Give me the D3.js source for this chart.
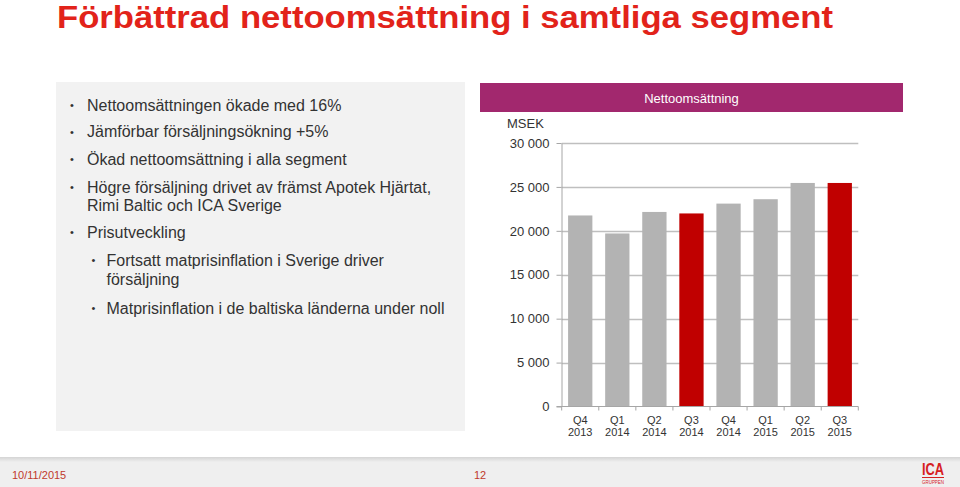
<!DOCTYPE html>
<html>
<head>
<meta charset="utf-8">
<script src="https://cdn.jsdelivr.net/npm/d3@7"></script>
<style>
  html, body { margin: 0; padding: 0; background: #fff; }
  svg { display: block; font-family: Arial, "Liberation Sans", sans-serif; }
</style>
</head>
<body>
<svg id="chart" width="960" height="487"></svg>
<script>
// ---- Data ----
const quarters = ["Q4", "Q1", "Q2", "Q3", "Q4", "Q1", "Q2", "Q3"];
const years = ["2013", "2014", "2014", "2014", "2014", "2015", "2015", "2015"];
const netSales = [21750, 19700, 22150, 21980, 23100, 23600, 25450, 25450];
const highlight = [false, false, false, true, false, false, false, true];
const yTicks = [0, 5000, 10000, 15000, 20000, 25000, 30000];
const yTickLabels = ["0", "5 000", "10 000", "15 000", "20 000", "25 000", "30 000"];
const titleText = "Förbättrad nettoomsättning i samtliga segment";
const chartHeader = "Nettoomsättning";
const unitLabel = "MSEK";
const bullets = [
  { level: 0, lines: ["Nettoomsättningen ökade med 16%"] },
  { level: 0, lines: ["Jämförbar försäljningsökning +5%"] },
  { level: 0, lines: ["Ökad nettoomsättning i alla segment"] },
  { level: 0, lines: ["Högre försäljning drivet av främst Apotek Hjärtat,", "Rimi Baltic och ICA Sverige"] },
  { level: 0, lines: ["Prisutveckling"] },
  { level: 1, lines: ["Fortsatt matprisinflation i Sverige driver", "försäljning"] },
  { level: 1, lines: ["Matprisinflation i de baltiska länderna under noll"] }
];
const footerDate = "10/11/2015";
const pageNumber = "12";

// ---- Drawing ----
const svg = d3.select("#chart");
const defs = svg.append("defs");
const grad = defs.append("linearGradient").attr("id", "shadow")
  .attr("x1", 0).attr("y1", 0).attr("x2", 0).attr("y2", 1);
grad.append("stop").attr("offset", "0%").attr("stop-color", "#d4d4d4");
grad.append("stop").attr("offset", "100%").attr("stop-color", "#efefef");

// Title
svg.append("text")
  .attr("x", 57).attr("y", 28.2)
  .attr("font-size", 31).attr("font-weight", "bold")
  .attr("fill", "#e2231a")
  .attr("textLength", 776).attr("lengthAdjust", "spacingAndGlyphs")
  .text(titleText);

// Left panel
svg.append("rect").attr("x", 56).attr("y", 82).attr("width", 409).attr("height", 349)
  .attr("fill", "#f2f2f2");

const lineYs = [105, 131.7, 159, 187.3, 205.7, 232.3, 260, 279, 308.3];
let li = 0;
bullets.forEach(b => {
  const bx = b.level === 0 ? 72 : 93.5;
  const tx = b.level === 0 ? 87 : 106.5;
  svg.append("text").attr("x", bx).attr("y", lineYs[li] + 4)
    .attr("text-anchor", "middle").attr("font-size", 11).attr("fill", "#333")
    .text("•");
  b.lines.forEach(l => {
    svg.append("text").attr("x", tx).attr("y", lineYs[li] + 5.6)
      .attr("font-size", 16).attr("fill", "#333").text(l);
    li++;
  });
});

// Chart header
svg.append("rect").attr("x", 480).attr("y", 83).attr("width", 423).attr("height", 29)
  .attr("fill", "#a2286e");
svg.append("text").attr("x", 691.5).attr("y", 102.5).attr("text-anchor", "middle")
  .attr("font-size", 13).attr("fill", "#fff").text(chartHeader);

svg.append("text").attr("x", 507).attr("y", 128).attr("font-size", 13)
  .attr("fill", "#333").text(unitLabel);

// Scales
const x = d3.scaleBand().domain(d3.range(netSales.length))
  .range([561.7, 858.3]).paddingInner(0.345).paddingOuter(0.1725);
const y = d3.scaleLinear().domain([0, 30000]).range([406.5, 143]);

// Gridlines
svg.append("g").selectAll("line").data(yTicks.filter(d => d > 0)).join("line")
  .attr("x1", 561.7).attr("x2", 858.3)
  .attr("y1", d => Math.round(y(d)) + 0.5).attr("y2", d => Math.round(y(d)) + 0.5)
  .attr("stroke", "#bfbfbf").attr("stroke-width", 1.3);

// Bars
svg.append("g").selectAll("rect").data(netSales).join("rect")
  .attr("x", (d, i) => x(i)).attr("width", x.bandwidth())
  .attr("y", d => y(d)).attr("height", d => y(0) - y(d))
  .attr("fill", (d, i) => highlight[i] ? "#c00000" : "#b3b3b3");

// Y axis
const yAxis = d3.axisLeft(y).tickValues(yTicks)
  .tickFormat((d, i) => yTickLabels[i]).tickSize(5).tickSizeOuter(0).tickPadding(7);
const gy = svg.append("g").attr("transform", "translate(561.5,0)").call(yAxis);
gy.selectAll("path,line").attr("stroke", "#a6a6a6");
gy.selectAll("text").attr("font-size", 13).attr("fill", "#333")
  .attr("font-family", "Arial, 'Liberation Sans', sans-serif");

// X axis
const gx = svg.append("g").attr("transform", `translate(0,${y(0)})`);
gx.append("line").attr("x1", 556.5).attr("x2", 858.3).attr("y1", 0).attr("y2", 0)
  .attr("stroke", "#a6a6a6");
const step = x.step();
const boundaries = d3.range(netSales.length + 1).map(i => x(0) - step * x.paddingInner() / 2 + i * step);
gx.selectAll("line.tick").data(boundaries).join("line").attr("class", "tick")
  .attr("x1", d => d).attr("x2", d => d).attr("y1", 0).attr("y2", 4)
  .attr("stroke", "#a6a6a6");
const labels = gx.selectAll("text.cat").data(quarters).join("text").attr("class", "cat")
  .attr("text-anchor", "middle").attr("font-size", 11).attr("fill", "#333");
labels.append("tspan").attr("x", (d, i) => x(i) + x.bandwidth() / 2).attr("y", 17)
  .text(d => d);
labels.append("tspan").attr("x", (d, i) => x(i) + x.bandwidth() / 2).attr("y", 29.5)
  .text((d, i) => years[i]);

// Footer
svg.append("rect").attr("x", 0).attr("y", 457).attr("width", 960).attr("height", 30)
  .attr("fill", "#efefef");
svg.append("rect").attr("x", 0).attr("y", 457).attr("width", 960).attr("height", 5)
  .attr("fill", "url(#shadow)");
svg.append("text").attr("x", 12).attr("y", 479).attr("font-size", 11)
  .attr("fill", "#c0392b").text(footerDate);
svg.append("text").attr("x", 480).attr("y", 479).attr("text-anchor", "middle")
  .attr("font-size", 11).attr("fill", "#c0392b").text(pageNumber);

// ICA logo
const logo = svg.append("g").attr("transform", "translate(933,0)");
logo.append("text").attr("x", 0).attr("y", 475).attr("text-anchor", "middle")
  .attr("font-size", 16).attr("font-weight", "bold").attr("fill", "#d6201f")
  .attr("textLength", 22).attr("lengthAdjust", "spacingAndGlyphs").text("ICA");
logo.append("line").attr("x1", -11).attr("x2", 11).attr("y1", 477.5).attr("y2", 477.5)
  .attr("stroke", "#d6201f").attr("stroke-width", 1);
logo.append("text").attr("x", 0).attr("y", 483.5).attr("text-anchor", "middle")
  .attr("font-size", 4.5).attr("fill", "#d6201f")
  .attr("textLength", 22).attr("lengthAdjust", "spacingAndGlyphs").text("GRUPPEN");
</script>
</body>
</html>
